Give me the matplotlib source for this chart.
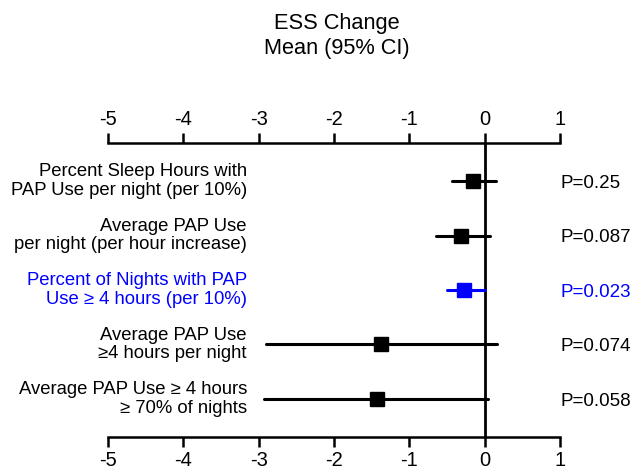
import matplotlib
matplotlib.use('Agg')
import matplotlib.pyplot as plt
import matplotlib.transforms as mtransforms

plt.rcParams['font.family'] = ['Liberation Sans', 'DejaVu Sans']

labels = [
    'Percent Sleep Hours with\nPAP Use per night (per 10%)',
    'Average PAP Use\nper night (per hour increase)',
    'Percent of Nights with PAP\nUse \u2265 4 hours (per 10%)',
    'Average PAP Use\n\u22654 hours per night',
    'Average PAP Use \u2265 4 hours\n\u2265 70% of nights',
]
means = [-0.16, -0.31, -0.27, -1.37, -1.43]
ci_low = [-0.44, -0.65, -0.50, -2.90, -2.93]
ci_high = [0.15, 0.07, 0.00, 0.16, 0.05]
pvals = ['P=0.25', 'P=0.087', 'P=0.023', 'P=0.074', 'P=0.058']
colors = ['black', 'black', '#0000FF', 'black', 'black']
ticks = [-5, -4, -3, -2, -1, 0, 1]

fig = plt.figure(figsize=(6.33, 4.70), dpi=100)
fig.patch.set_facecolor('white')
ax = fig.add_axes([108/633, 1 - 437/470, (560 - 108)/633, (437 - 143)/470])

rows = list(range(1, len(labels) + 1))
ax.axvline(0, color='black', lw=2.0, zorder=1)
for y, m, lo, hi, c in zip(rows, means, ci_low, ci_high, colors):
    ax.plot([lo, hi], [y, y], color=c, lw=2.2, solid_capstyle='round', zorder=2)
    ax.plot(m, y, marker='s', ms=9.5, color=c, zorder=3)

ax.set_xlim(-5, 1)
ax.set_ylim(5.70, 0.30)
ax.set_xticks(ticks)
ax.set_xticklabels([str(t) for t in ticks])
ax.set_yticks([])
ax.spines[['left', 'right']].set_visible(False)
for s in ['top', 'bottom']:
    ax.spines[s].set_linewidth(1.8)
ax.tick_params(axis='x', top=True, labeltop=True, bottom=True, labelbottom=True,
               direction='out', length=7, width=1.8, labelsize=14.5, pad=3)

# row labels on the left, p-values on the right
trans_l = mtransforms.blended_transform_factory(fig.transFigure, ax.transData)
for y, lab, p, c in zip(rows, labels, pvals, colors):
    ax.text(247/633, y, lab, transform=trans_l, ha='right', va='center',
            fontsize=13.3, color=c, linespacing=1.1, clip_on=False)
    ax.text(561/633, y + 0.04, p, transform=trans_l, ha='left', va='center',
            fontsize=13.5, color=c, clip_on=False)

fig.text(337/633, 1 - 36/470, 'ESS Change\nMean (95% CI)', ha='center', va='center',
         fontsize=15.7, linespacing=1.3)

plt.savefig('out.png', dpi=100, facecolor='white')
plt.close()
